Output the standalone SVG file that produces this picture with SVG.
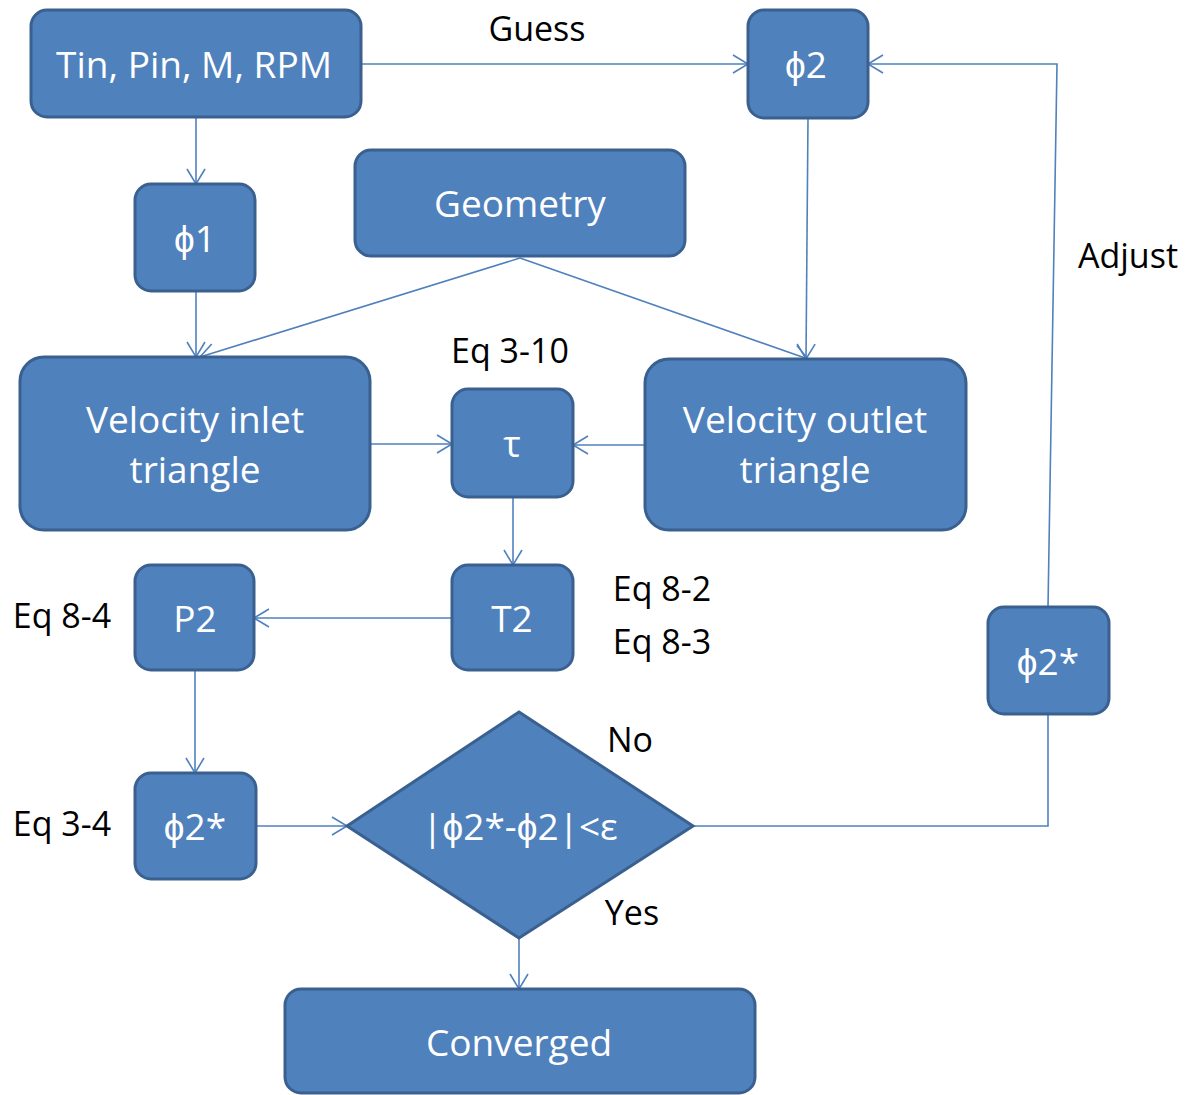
<svg xmlns="http://www.w3.org/2000/svg" width="1194" height="1095" viewBox="0 0 1194 1095">
<style>
.n{fill:#4F81BD;stroke:#3A6090;stroke-width:3}
.t{fill:#fff;font-family:"Open Sans","Liberation Sans",sans-serif;font-size:37px;text-anchor:middle;dominant-baseline:central}
.l{fill:#000;font-family:"Open Sans","Liberation Sans",sans-serif;font-size:34px;text-anchor:middle}
.c{fill:none;stroke:#4F81BD;stroke-width:1.6}
</style>
<defs>
<marker id="a" markerUnits="userSpaceOnUse" markerWidth="22" markerHeight="22" refX="19" refY="11" orient="auto" viewBox="0 0 22 22">
<path d="M4,2 L19,11 L4,20" fill="none" stroke="#4F81BD" stroke-width="1.6"/>
</marker>
</defs>
<g id="connectors">
<path class="c" d="M361,64 H748" marker-end="url(#a)"/>
<path class="c" d="M196,118 V184" marker-end="url(#a)"/>
<path class="c" d="M196,292 V357" marker-end="url(#a)"/>
<path class="c" d="M520,258 L200,357" marker-end="url(#a)"/>
<path class="c" d="M520,258 L808,359" marker-end="url(#a)"/>
<path class="c" d="M808,118 L806,359" marker-end="url(#a)"/>
<path class="c" d="M370,444 H452" marker-end="url(#a)"/>
<path class="c" d="M645,445 H573" marker-end="url(#a)"/>
<path class="c" d="M513,497 V565" marker-end="url(#a)"/>
<path class="c" d="M452,618 H254" marker-end="url(#a)"/>
<path class="c" d="M195,670 V773" marker-end="url(#a)"/>
<path class="c" d="M256,826 H347" marker-end="url(#a)"/>
<path class="c" d="M693,826 H1048 V714"/>
<path class="c" d="M1048,607 L1057,64 H868" marker-end="url(#a)"/>
<path class="c" d="M519,938 V989" marker-end="url(#a)"/>
</g>
<g id="n-inputs"><rect class="n" x="31" y="10" width="330" height="107" rx="16"/><text class="t" x="194" y="63">Tin, Pin, M, RPM</text></g>
<g id="n-phi2"><rect class="n" x="748" y="10" width="120" height="108" rx="16"/><text class="t" x="806" y="63">ϕ2</text></g>
<g id="n-phi1"><rect class="n" x="135" y="184" width="120" height="107" rx="16"/><text class="t" x="195" y="237">ϕ1</text></g>
<g id="n-geometry"><rect class="n" x="355" y="150" width="330" height="106" rx="16"/><text class="t" x="520" y="202">Geometry</text></g>
<g id="n-inlet"><rect class="n" x="20" y="357" width="350" height="173" rx="24"/><text class="t" x="195" y="418">Velocity inlet</text><text class="t" x="195" y="468">triangle</text></g>
<g id="n-tau"><rect class="n" x="452" y="389" width="121" height="108" rx="16"/><text class="t" x="512" y="442">τ</text></g>
<g id="n-outlet"><rect class="n" x="645" y="359" width="321" height="171" rx="24"/><text class="t" x="805" y="418">Velocity outlet</text><text class="t" x="805" y="468">triangle</text></g>
<g id="n-t2"><rect class="n" x="452" y="565" width="121" height="105" rx="16"/><text class="t" x="512" y="617">T2</text></g>
<g id="n-p2"><rect class="n" x="135" y="565" width="119" height="105" rx="16"/><text class="t" x="195" y="617">P2</text></g>
<g id="n-phi2star-l"><rect class="n" x="135" y="773" width="121" height="106" rx="16"/><text class="t" x="195" y="825">ϕ2*</text></g>
<g id="n-decision"><polygon class="n" points="519,712 693,826 519,938 347,826"/><text class="t" x="520" y="825">|ϕ2*-ϕ2|&lt;ε</text></g>
<g id="n-phi2star-r"><rect class="n" x="988" y="607" width="121" height="107" rx="16"/><text class="t" x="1048" y="660">ϕ2*</text></g>
<g id="n-converged"><rect class="n" x="285" y="989" width="470" height="104" rx="16"/><text class="t" x="519" y="1041">Converged</text></g>
<g id="labels">
<text class="l" x="537" y="41">Guess</text>
<text class="l" x="1128" y="268">Adjust</text>
<text class="l" x="510" y="363">Eq 3-10</text>
<text class="l" x="662" y="601">Eq 8-2</text>
<text class="l" x="662" y="654">Eq 8-3</text>
<text class="l" x="62" y="628">Eq 8-4</text>
<text class="l" x="62" y="836">Eq 3-4</text>
<text class="l" x="630" y="752">No</text>
<text class="l" x="632" y="925">Yes</text>
</g>
</svg>
